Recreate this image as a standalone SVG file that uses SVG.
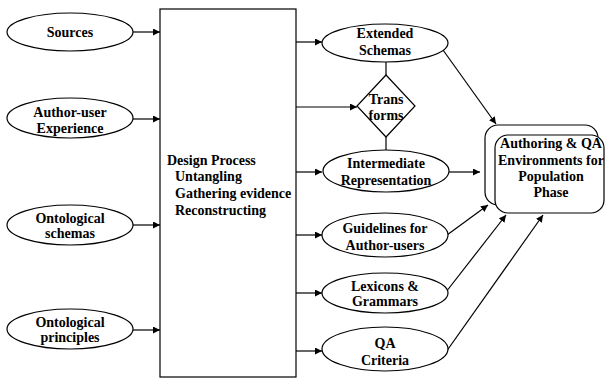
<svg xmlns="http://www.w3.org/2000/svg" width="605" height="379" viewBox="0 0 605 379">
<defs>
<marker id="ah" viewBox="0 0 10 10" refX="10" refY="5" markerWidth="7" markerHeight="7" markerUnits="userSpaceOnUse" orient="auto">
<path d="M0,0 L10,5 L0,10 z" fill="#000"/>
</marker>
<style>
.sh{fill:#fff;stroke:#000;stroke-width:1.2}
text{font-family:'Liberation Serif','Times New Roman',Times,'DejaVu Serif',serif;font-weight:bold;font-size:14px;fill:#000}
.c{text-anchor:middle}
.ln{stroke:#000;stroke-width:1.2;fill:none}
.ar{stroke:#000;stroke-width:1.2;fill:none;marker-end:url(#ah)}
</style>
</defs>
<rect width="605" height="379" fill="#fff"/>

<g id="connectors">
<line class="ar" x1="133" y1="32" x2="160" y2="32"/>
<line class="ar" x1="133" y1="119" x2="160" y2="119"/>
<line class="ar" x1="133" y1="225" x2="160" y2="225"/>
<line class="ar" x1="133" y1="330" x2="160" y2="330"/>
<line class="ar" x1="296" y1="42" x2="322" y2="42"/>
<line class="ar" x1="296" y1="107" x2="357" y2="107"/>
<line class="ar" x1="296" y1="172" x2="322" y2="172"/>
<line class="ar" x1="296" y1="235" x2="322" y2="235"/>
<line class="ar" x1="296" y1="293" x2="322" y2="293"/>
<line class="ar" x1="296" y1="351" x2="322" y2="351"/>
<line class="ln" x1="386" y1="62" x2="386" y2="75"/>
<line class="ln" x1="386" y1="137" x2="386" y2="151"/>
<line class="ar" x1="443" y1="50" x2="496" y2="124"/>
<line class="ar" x1="449" y1="172" x2="480" y2="172"/>
<line class="ar" x1="447" y1="235" x2="488" y2="205"/>
<line class="ar" x1="446" y1="292" x2="506" y2="215"/>
<line class="ar" x1="446" y1="352" x2="543" y2="215"/>
</g>

<g id="sources">
<ellipse class="sh" cx="70" cy="32" rx="63" ry="19"/>
<text class="c" x="70" y="37">Sources</text>
</g>
<g id="author-user-experience">
<ellipse class="sh" cx="70" cy="118" rx="63" ry="20"/>
<text class="c" x="70" y="117">Author-user</text>
<text class="c" x="70" y="133">Experience</text>
</g>
<g id="ontological-schemas">
<ellipse class="sh" cx="70" cy="225" rx="63" ry="20"/>
<text class="c" x="70" y="223">Ontological</text>
<text class="c" x="70" y="238">schemas</text>
</g>
<g id="ontological-principles">
<ellipse class="sh" cx="70" cy="329" rx="63" ry="20"/>
<text class="c" x="70" y="327">Ontological</text>
<text class="c" x="70" y="342">principles</text>
</g>

<g id="design-process">
<rect class="sh" x="160" y="9" width="136" height="368"/>
<text x="167" y="165">Design Process</text>
<text x="175" y="181">Untangling</text>
<text x="175" y="198">Gathering evidence</text>
<text x="175" y="215">Reconstructing</text>
</g>

<g id="extended-schemas">
<ellipse class="sh" cx="385" cy="43" rx="63" ry="19"/>
<text class="c" x="385" y="38">Extended</text>
<text class="c" x="385" y="55">Schemas</text>
</g>
<g id="transforms">
<polygon class="sh" points="386,75 415,106 386,137 357,106"/>
<text class="c" x="386" y="104">Trans</text>
<text class="c" x="386" y="120">forms</text>
</g>
<g id="intermediate-representation">
<ellipse class="sh" cx="386" cy="171" rx="63" ry="21"/>
<text class="c" x="386" y="168">Intermediate</text>
<text class="c" x="386" y="185">Representation</text>
</g>
<g id="guidelines">
<ellipse class="sh" cx="385" cy="235" rx="63" ry="22"/>
<text class="c" x="385" y="233">Guidelines for</text>
<text class="c" x="385" y="250">Author-users</text>
</g>
<g id="lexicons">
<ellipse class="sh" cx="385" cy="293" rx="63" ry="20"/>
<text class="c" x="385" y="291">Lexicons &amp;</text>
<text class="c" x="385" y="306">Grammars</text>
</g>
<g id="qa-criteria">
<ellipse class="sh" cx="385" cy="349" rx="63" ry="22"/>
<text class="c" x="385" y="348">QA</text>
<text class="c" x="385" y="365">Criteria</text>
</g>

<g id="authoring-environments">
<rect class="sh" x="485" y="125" width="113" height="80" rx="13" ry="13"/>
<rect class="sh" x="495" y="135" width="109" height="78" rx="13" ry="13"/>
<text class="c" x="551" y="148">Authoring &amp; QA</text>
<text class="c" x="551" y="165">Environments for</text>
<text class="c" x="551" y="181">Population</text>
<text class="c" x="551" y="197">Phase</text>
</g>
</svg>
